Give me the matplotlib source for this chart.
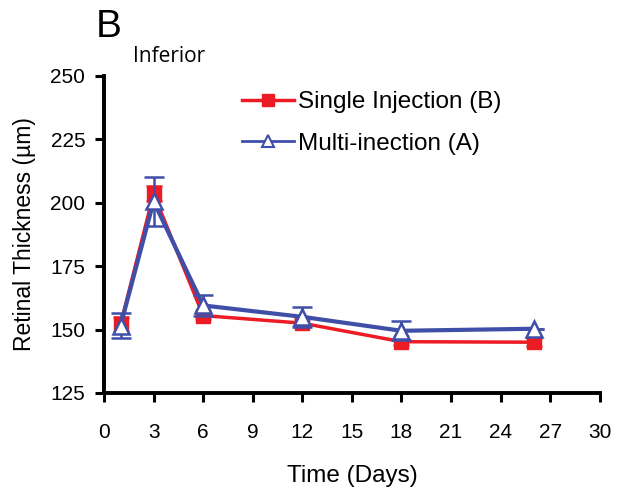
import matplotlib
matplotlib.use('Agg')
import matplotlib.pyplot as plt
from matplotlib.lines import Line2D

plt.rcParams['font.family'] = ['Liberation Sans', 'DejaVu Sans']

days = [1, 3, 6, 12, 18, 26]
single = [152, 203.5, 155.5, 152.5, 145.2, 145]
single_err = [3, 3, 1.5, 1.5, 1.5, 1.5]
multi = [151.5, 200.5, 159.5, 155, 149.5, 150.3]
multi_err = [5, 9.5, 4, 4, 3.8, 0]

red = '#ed1c24'
blue = '#3f4fa8'

fig = plt.figure(figsize=(6.17, 4.93), dpi=100)
ax = fig.add_axes([0.1686, 0.203, 0.8034, 0.643])

ax.errorbar(days, single, yerr=single_err, color=red, lw=2.5, marker='s',
            ms=10, mec=red, mfc=red, capsize=6, elinewidth=1.8, capthick=1.8,
            zorder=3)
ax.errorbar(days, multi, yerr=multi_err, color=blue, lw=3, marker='^',
            ms=11, mec=blue, mfc='white', mew=1.8, capsize=7, elinewidth=1.8,
            capthick=1.8, zorder=4)

ax.set_xlim(0, 30)
ax.set_ylim(125, 250)
ax.set_xticks(range(0, 31, 3))
ax.set_yticks(range(125, 251, 25))
ax.tick_params(labelsize=15, direction='out', length=6.5, width=2.2)
ax.tick_params(axis='x', pad=15)
ax.tick_params(axis='y', pad=7)
for s in ['top', 'right']:
    ax.spines[s].set_visible(False)
for s in ['left', 'bottom']:
    ax.spines[s].set_linewidth(2.8)

ax.set_ylabel('Retinal Thickness (\u00b5m)', fontsize=16.5, labelpad=10)
ax.set_xlabel('Time (Days)', fontsize=17.5, labelpad=17)

handles = [
    Line2D([], [], color=red, lw=2.5, marker='s', ms=9, mfc=red, mec=red),
    Line2D([], [], color=blue, lw=2, marker='^', ms=9, mfc='white', mec=blue, mew=1.5),
]
labels = ['Single Injection (B)', 'Multi-inection (A)']
fig.legend(handles, labels, loc='upper left', bbox_to_anchor=(0.393, 0.815),
           frameon=False, fontsize=17.5, handlelength=2.1, labelspacing=0.8,
           handletextpad=0.2, borderpad=0, borderaxespad=0)

fig.text(0.155, 0.925, 'B', fontsize=28)
fig.text(0.216, 0.875, 'Inferior', fontsize=15, family=['Open Sans', 'DejaVu Sans'])

fig.savefig('out.png', dpi=100)
